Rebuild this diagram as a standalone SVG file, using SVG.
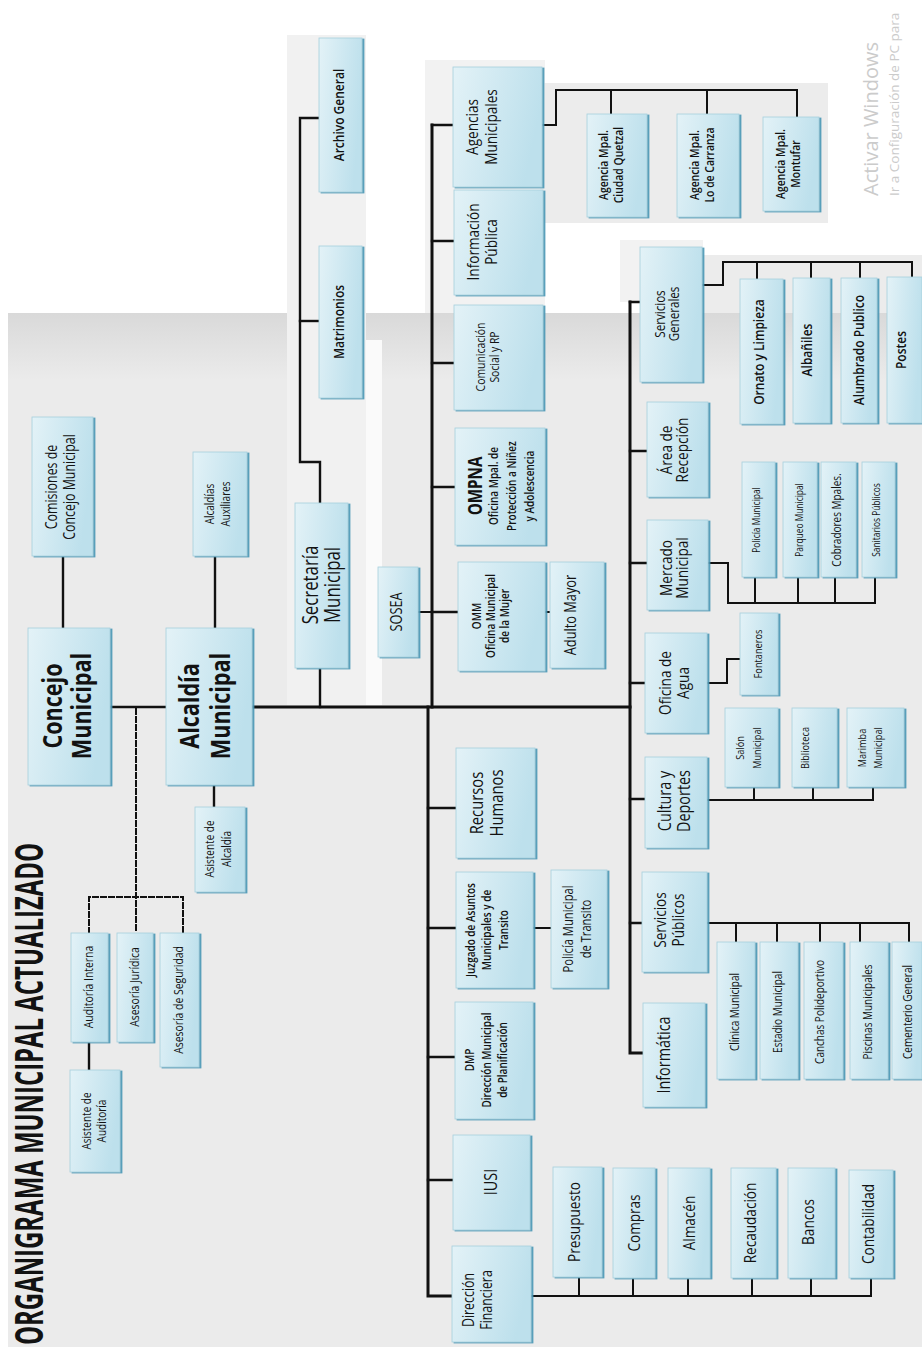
<svg xmlns="http://www.w3.org/2000/svg" width="922" height="1347" viewBox="0 0 922 1347">
<defs>
<linearGradient id="gb" x1="0" y1="0" x2="1" y2="0.3"><stop offset="0" stop-color="#e3f2f7"/><stop offset="1" stop-color="#bde0ec"/></linearGradient>
<linearGradient id="gbg" gradientUnits="userSpaceOnUse" x1="0" y1="313" x2="0" y2="380"><stop offset="0" stop-color="#d9d9d9"/><stop offset="1" stop-color="#ebebeb"/></linearGradient>
<filter id="sh" x="-10%" y="-10%" width="130%" height="130%"><feDropShadow dx="2" dy="1" stdDeviation="0.5" flood-color="#4a97b5" flood-opacity="0.9"/></filter>
</defs>
<style>
.box{fill:url(#gb);stroke:#a6cfdd;stroke-width:0.8;filter:url(#sh)}
text{font-family:'Open Sans','Liberation Sans',sans-serif;fill:#121212;text-anchor:middle;font-weight:500}
.b{font-weight:700}
.s{font-weight:600}
.wm{fill:#cbcbcb;text-anchor:start;font-weight:400}
#connectors path{fill:none;stroke:#111;stroke-linecap:square}
.k3{stroke-width:3}
.k2{stroke-width:2.4}
.k1{stroke-width:2}
.dash{stroke-dasharray:5 3;stroke-linecap:butt}
</style>
<rect width="922" height="1347" fill="#ffffff"/>
<rect x="8" y="313" width="914" height="1034" fill="url(#gbg)"/>
<rect x="287" y="35" width="79" height="670" fill="#f1f1f1"/>
<rect x="366" y="340" width="16" height="365" fill="#fafafa"/>
<rect x="425" y="60" width="120" height="253" fill="#f2f2f2"/>
<rect x="540" y="83" width="288" height="140" fill="#ececec"/>
<rect x="620" y="240" width="83" height="62" fill="#f2f2f2"/>
<rect x="703" y="255" width="219" height="58" fill="#ececec"/>

<text class="b" font-size="40" transform="translate(43,1345) rotate(-90)" style="text-anchor:start" textLength="502" lengthAdjust="spacingAndGlyphs">ORGANIGRAMA MUNICIPAL ACTUALIZADO</text>
<text class="wm" font-size="20" transform="translate(878,196) rotate(-90)">Activar Windows</text>
<text class="wm" font-size="13.5" transform="translate(899,196) rotate(-90)">Ir a Configuración de PC para</text>

<g id="connectors">
<path class="k2" d="M110 707 H166"/>
<path class="k3" d="M252 707 H630"/>
<path class="k3" d="M432 125 V707"/>
<path class="k3" d="M428 707 V1296 H452"/>
<path class="k3" d="M630 302 V1053 H643"/>
<path class="k2" d="M63 556 V628"/>
<path class="k2" d="M215 556 V628"/>
<path class="k2" d="M214 785 V807"/>
<path class="k2" d="M89 1042 V1070"/>
<path class="k2" d="M320 707 V668"/>
<path class="k2" d="M320 503 V462 H300 V118 H319"/>
<path class="k2" d="M300 321 H319"/>
<path class="k2" d="M432 125 H453 M432 241 H454 M432 363 H454 M432 487 H455 M432 612 H458"/>
<path class="k1" d="M418 612 H432"/>
<path class="k1" d="M545 612 H550"/>
<path class="k2" d="M428 808 H456 M428 928 H456 M428 1057 H455 M428 1180 H453"/>
<path class="k1" d="M533 928 H551"/>
<path class="k2" d="M630 302 H640 M630 451 H647 M630 563 H647 M630 683 H645 M630 799 H645 M630 923 H642"/>
<path class="k1" d="M542 125 H556 V90 H797 V117 M611 90 V114 M707 90 V114"/>
<path class="k1" d="M531 1296 H871 V1278 M579 1296 V1277 M633 1296 V1278 M688 1296 V1278 M752 1296 V1278 M811 1296 V1278"/>
<path class="k1" d="M702 285 H723 V262 H912 V277 M757 262 V279 M811 262 V278 M860 262 V278"/>
<path class="k1" d="M708 563 H728 V603 H875 V577 M755 603 V577 M798 603 V577 M835 603 V577"/>
<path class="k1" d="M707 683 H727 V659 H740"/>
<path class="k1" d="M707 800 H873 V787 M754 800 V787 M813 800 V787"/>
<path class="k1" d="M707 923 H909 V942 M736 923 V942 M777 923 V942 M820 923 V942 M860 923 V942"/>
<path class="k1 dash" d="M136 709 V933 M89 933 V897 H183 V933"/>
</g>

<g id="n-concejo"><rect class="box" x="28" y="628" width="82" height="157"/><text class="b" font-size="27" transform="translate(67,706) rotate(-90) scale(.8,1)"><tspan x="0" y="-5">Concejo</tspan><tspan x="0" y="24">Municipal</tspan></text></g>
<g id="n-comisiones"><rect class="box" x="32" y="417" width="61" height="139"/><text font-size="15.5" transform="translate(61,487) rotate(-90) scale(.8,1)"><tspan x="0" y="-3.8">Comisiones de</tspan><tspan x="0" y="14.4">Concejo Municipal</tspan></text></g>
<g id="n-alcaldia"><rect class="box" x="166" y="628" width="86" height="157"/><text class="b" font-size="27" transform="translate(205,706) rotate(-90) scale(.8,1)"><tspan x="0" y="-6">Alcaldía</tspan><tspan x="0" y="25">Municipal</tspan></text></g>
<g id="n-auxiliares"><rect class="box" x="193" y="452" width="54" height="104"/><text font-size="12.5" transform="translate(218,504) rotate(-90) scale(.8,1)"><tspan x="0" y="-3.6">Alcaldías</tspan><tspan x="0" y="12.4">Auxiliares</tspan></text></g>
<g id="n-asist-alcaldia"><rect class="box" x="195" y="807" width="50" height="85"/><text font-size="12.5" transform="translate(218.5,849) rotate(-90) scale(.8,1)"><tspan x="0" y="-4.1">Asistente de</tspan><tspan x="0" y="12.9">Alcaldía</tspan></text></g>
<g id="n-auditoria-interna"><rect class="box" x="71" y="933" width="37" height="109"/><text font-size="13" transform="translate(88,987) rotate(-90) scale(.8,1)"><tspan x="0" y="4.5">Auditoría Interna</tspan></text></g>
<g id="n-asesoria-juridica"><rect class="box" x="117" y="933" width="36" height="109"/><text font-size="13" transform="translate(134,987) rotate(-90) scale(.8,1)"><tspan x="0" y="4.5">Asesoría Jurídica</tspan></text></g>
<g id="n-asesoria-seguridad"><rect class="box" x="160" y="933" width="39" height="134"/><text font-size="13" transform="translate(178,1000) rotate(-90) scale(.8,1)"><tspan x="0" y="4.5">Asesoría de Seguridad</tspan></text></g>
<g id="n-asist-auditoria"><rect class="box" x="70" y="1070" width="50" height="102"/><text font-size="12.5" transform="translate(94,1121) rotate(-90) scale(.8,1)"><tspan x="0" y="-3.1">Asistente de</tspan><tspan x="0" y="11.9">Auditoría</tspan></text></g>

<g id="n-secretaria"><rect class="box" x="295" y="503" width="53" height="165"/><text font-size="21" transform="translate(322,585) rotate(-90) scale(.8,1)"><tspan x="0" y="-3.6">Secretaría</tspan><tspan x="0" y="18.4">Municipal</tspan></text></g>
<g id="n-archivo"><rect class="box" x="319" y="38" width="43" height="154"/><text class="s" font-size="15" transform="translate(339,115) rotate(-90) scale(.8,1)"><tspan x="0" y="5.2">Archivo General</tspan></text></g>
<g id="n-matrimonios"><rect class="box" x="319" y="246" width="43" height="152"/><text class="s" font-size="15" transform="translate(339,322) rotate(-90) scale(.8,1)"><tspan x="0" y="5.2">Matrimonios</tspan></text></g>
<g id="n-sosea"><rect class="box" x="378" y="567" width="40" height="90"/><text font-size="16" transform="translate(396,612) rotate(-90) scale(.8,1)"><tspan x="0" y="5.6">SOSEA</tspan></text></g>

<g id="n-agencias"><rect class="box" x="453" y="67" width="89" height="120"/><text font-size="17" transform="translate(481,127) rotate(-90) scale(.8,1)"><tspan x="0" y="-3.5">Agencias</tspan><tspan x="0" y="15.5">Municipales</tspan></text></g>
<g id="n-informacion"><rect class="box" x="454" y="190" width="89" height="105"/><text font-size="17" transform="translate(482,242) rotate(-90) scale(.8,1)"><tspan x="0" y="-3">Información</tspan><tspan x="0" y="15">Pública</tspan></text></g>
<g id="n-comunicacion"><rect class="box" x="454" y="305" width="89" height="105"/><text font-size="13" transform="translate(487,357) rotate(-90) scale(.8,1)"><tspan x="0" y="-2.5">Comunicación</tspan><tspan x="0" y="11.5">Social y RP</tspan></text></g>
<g id="n-ompna"><rect class="box" x="455" y="428" width="90" height="117"/><text font-size="12.5" class="s" transform="translate(500,486) rotate(-90) scale(.8,1)"><tspan x="0" y="-18.3" class="b" font-size="19">OMPNA</tspan><tspan x="0" y="-1.6">Oficina Mpal. de</tspan><tspan x="0" y="16.4">Protección a Niñez</tspan><tspan x="0" y="34.4">y Adolescencia</tspan></text></g>
<g id="n-omm"><rect class="box" x="458" y="562" width="87" height="109"/><text font-size="12.5" class="s" transform="translate(501.5,616) rotate(-90) scale(.8,1)"><tspan x="0" y="-20.3">OMM</tspan><tspan x="0" y="-6.3">Oficina Municipal</tspan><tspan x="0" y="7.7">de la Mujer</tspan></text></g>
<g id="n-adulto"><rect class="box" x="550" y="562" width="54" height="106"/><text font-size="16" transform="translate(570,615) rotate(-90) scale(.8,1)"><tspan x="0" y="5.6">Adulto Mayor</tspan></text></g>
<g id="n-ag-quetzal"><rect class="box" x="587" y="114" width="60" height="103"/><text class="s" font-size="13" transform="translate(610.5,165) rotate(-90) scale(.8,1)"><tspan x="0" y="-3">Agencia Mpal.</tspan><tspan x="0" y="12">Ciudad Quetzal</tspan></text></g>
<g id="n-ag-carranza"><rect class="box" x="677" y="114" width="62" height="103"/><text class="s" font-size="13" transform="translate(701.5,165) rotate(-90) scale(.8,1)"><tspan x="0" y="-3">Agencia Mpal.</tspan><tspan x="0" y="12">Lo de Carranza</tspan></text></g>
<g id="n-ag-montufar"><rect class="box" x="763" y="117" width="56" height="94"/><text class="s" font-size="13" transform="translate(787.5,164) rotate(-90) scale(.8,1)"><tspan x="0" y="-3">Agencia Mpal.</tspan><tspan x="0" y="12">Montufar</tspan></text></g>

<g id="n-rrhh"><rect class="box" x="456" y="748" width="79" height="110"/><text font-size="18.5" transform="translate(486.5,803) rotate(-90) scale(.8,1)"><tspan x="0" y="-3.7">Recursos</tspan><tspan x="0" y="16.5">Humanos</tspan></text></g>
<g id="n-juzgado"><rect class="box" x="456" y="872" width="77" height="116"/><text class="s" font-size="12.5" transform="translate(494.5,930) rotate(-90) scale(.8,1)"><tspan x="0" y="-19.1">Juzgado de Asuntos</tspan><tspan x="0" y="-3.1">Municipales y de</tspan><tspan x="0" y="13.9">Transito</tspan></text></g>
<g id="n-pmt"><rect class="box" x="551" y="870" width="56" height="118"/><text font-size="14" transform="translate(577,929) rotate(-90) scale(.8,1)"><tspan x="0" y="-4.3">Policía Municipal</tspan><tspan x="0" y="14.2">de Transito</tspan></text></g>
<g id="n-dmp"><rect class="box" x="455" y="1002" width="78" height="117"/><text class="s" font-size="12.5" transform="translate(487,1060) rotate(-90) scale(.8,1)"><tspan x="0" y="-12.6">DMP</tspan><tspan x="0" y="4.4">Dirección Municipal</tspan><tspan x="0" y="19.9">de Planificación</tspan></text></g>
<g id="n-iusi"><rect class="box" x="453" y="1135" width="77" height="95"/><text font-size="18" transform="translate(491,1182) rotate(-90) scale(.8,1)"><tspan x="0" y="6.3">IUSI</tspan></text></g>
<g id="n-dfin"><rect class="box" x="452" y="1246" width="79" height="96"/><text font-size="15.5" transform="translate(477.5,1300) rotate(-90) scale(.8,1)"><tspan x="0" y="-3.2">Dirección</tspan><tspan x="0" y="14">Financiera</tspan></text></g>
<g id="n-presupuesto"><rect class="box" x="553" y="1167" width="49" height="110"/><text font-size="17" transform="translate(574,1222) rotate(-90) scale(.8,1)"><tspan x="0" y="6">Presupuesto</tspan></text></g>
<g id="n-compras"><rect class="box" x="613" y="1168" width="42" height="110"/><text font-size="17" transform="translate(633.5,1223) rotate(-90) scale(.8,1)"><tspan x="0" y="6">Compras</tspan></text></g>
<g id="n-almacen"><rect class="box" x="668" y="1168" width="42" height="110"/><text font-size="17" transform="translate(688.5,1223) rotate(-90) scale(.8,1)"><tspan x="0" y="6">Almacén</tspan></text></g>
<g id="n-recaudacion"><rect class="box" x="731" y="1168" width="45" height="110"/><text font-size="17" transform="translate(750,1223) rotate(-90) scale(.8,1)"><tspan x="0" y="6">Recaudación</tspan></text></g>
<g id="n-bancos"><rect class="box" x="788" y="1168" width="47" height="110"/><text font-size="17" transform="translate(807.5,1222) rotate(-90) scale(.8,1)"><tspan x="0" y="6">Bancos</tspan></text></g>
<g id="n-contabilidad"><rect class="box" x="849" y="1170" width="44" height="108"/><text font-size="17" transform="translate(867.5,1224) rotate(-90) scale(.8,1)"><tspan x="0" y="6">Contabilidad</tspan></text></g>

<g id="n-serv-generales"><rect class="box" x="640" y="247" width="62" height="135"/><text font-size="14.5" transform="translate(667,314) rotate(-90) scale(.8,1)"><tspan x="0" y="-2.5">Servicios</tspan><tspan x="0" y="12">Generales</tspan></text></g>
<g id="n-ornato"><rect class="box" x="740" y="279" width="43" height="145"/><text class="s" font-size="15" transform="translate(758.5,352) rotate(-90) scale(.8,1)"><tspan x="0" y="5.2">Ornato y Limpieza</tspan></text></g>
<g id="n-albaniles"><rect class="box" x="793" y="278" width="37" height="145"/><text class="s" font-size="15" transform="translate(806.5,350) rotate(-90) scale(.8,1)"><tspan x="0" y="5.2">Albañiles</tspan></text></g>
<g id="n-alumbrado"><rect class="box" x="841" y="278" width="36" height="145"/><text class="s" font-size="15" transform="translate(858.5,350) rotate(-90) scale(.8,1)"><tspan x="0" y="5.2">Alumbrado Publico</tspan></text></g>
<g id="n-postes"><rect class="box" x="887" y="277" width="35" height="146"/><text class="s" font-size="15" transform="translate(901,350) rotate(-90) scale(.8,1)"><tspan x="0" y="5.2">Postes</tspan></text></g>
<g id="n-recepcion"><rect class="box" x="647" y="402" width="61" height="95"/><text font-size="17" transform="translate(674,450) rotate(-90) scale(.8,1)"><tspan x="0" y="-2">Área de</tspan><tspan x="0" y="14">Recepción</tspan></text></g>
<g id="n-mercado"><rect class="box" x="647" y="520" width="61" height="90"/><text font-size="17" transform="translate(674,568) rotate(-90) scale(.8,1)"><tspan x="0" y="-2">Mercado</tspan><tspan x="0" y="14">Municipal</tspan></text></g>
<g id="n-policia-mun"><rect class="box" x="742" y="462" width="33" height="115"/><text font-size="10.5" transform="translate(756,520) rotate(-90) scale(.8,1)"><tspan x="0" y="3.7">Policía Municipal</tspan></text></g>
<g id="n-parqueo"><rect class="box" x="783" y="462" width="34" height="115"/><text font-size="10.5" transform="translate(799,520) rotate(-90) scale(.8,1)"><tspan x="0" y="3.7">Parqueo Municipal</tspan></text></g>
<g id="n-cobradores"><rect class="box" x="821" y="462" width="35" height="115"/><text font-size="12.5" transform="translate(837,520) rotate(-90) scale(.8,1)"><tspan x="0" y="4.4">Cobradores Mpales.</tspan></text></g>
<g id="n-sanitarios"><rect class="box" x="862" y="462" width="33" height="115"/><text font-size="10.5" transform="translate(876,520) rotate(-90) scale(.8,1)"><tspan x="0" y="3.7">Sanitarios Públicos</tspan></text></g>
<g id="n-agua"><rect class="box" x="645" y="633" width="62" height="100"/><text font-size="17" transform="translate(673.5,683) rotate(-90) scale(.8,1)"><tspan x="0" y="-3">Oficina de</tspan><tspan x="0" y="15">Agua</tspan></text></g>
<g id="n-fontaneros"><rect class="box" x="740" y="613" width="38" height="82"/><text font-size="11.5" transform="translate(758,654) rotate(-90) scale(.8,1)"><tspan x="0" y="4">Fontaneros</tspan></text></g>
<g id="n-cultura"><rect class="box" x="645" y="757" width="62" height="91"/><text font-size="18" transform="translate(674,801) rotate(-90) scale(.8,1)"><tspan x="0" y="-3.2">Cultura y</tspan><tspan x="0" y="15.8">Deportes</tspan></text></g>
<g id="n-salon"><rect class="box" x="725" y="708" width="53" height="79"/><text font-size="11.5" transform="translate(748.5,748) rotate(-90) scale(.8,1)"><tspan x="0" y="-4.4">Salón</tspan><tspan x="0" y="12.6">Municipal</tspan></text></g>
<g id="n-biblioteca"><rect class="box" x="792" y="708" width="45" height="79"/><text font-size="11.5" transform="translate(805,748) rotate(-90) scale(.8,1)"><tspan x="0" y="4">Biblioteca</tspan></text></g>
<g id="n-marimba"><rect class="box" x="847" y="708" width="57" height="79"/><text font-size="11.5" transform="translate(870,748) rotate(-90) scale(.8,1)"><tspan x="0" y="-4">Marimba</tspan><tspan x="0" y="12">Municipal</tspan></text></g>
<g id="n-serv-publicos"><rect class="box" x="642" y="872" width="65" height="100"/><text font-size="17" transform="translate(669,920) rotate(-90) scale(.8,1)"><tspan x="0" y="-3.3">Servicios</tspan><tspan x="0" y="15.2">Públicos</tspan></text></g>
<g id="n-clinica"><rect class="box" x="717" y="942" width="38" height="137"/><text font-size="12.5" transform="translate(735,1012) rotate(-90) scale(.8,1)"><tspan x="0" y="4.4">Clínica Municipal</tspan></text></g>
<g id="n-estadio"><rect class="box" x="760" y="942" width="38" height="137"/><text font-size="12.5" transform="translate(777.5,1012) rotate(-90) scale(.8,1)"><tspan x="0" y="4.4">Estadio Municipal</tspan></text></g>
<g id="n-canchas"><rect class="box" x="804" y="942" width="39" height="137"/><text font-size="12.5" transform="translate(820,1012) rotate(-90) scale(.8,1)"><tspan x="0" y="4.4">Canchas Polideportivo</tspan></text></g>
<g id="n-piscinas"><rect class="box" x="850" y="942" width="38" height="137"/><text font-size="12.5" transform="translate(867.5,1012) rotate(-90) scale(.8,1)"><tspan x="0" y="4.4">Piscinas Municipales</tspan></text></g>
<g id="n-cementerio"><rect class="box" x="892" y="942" width="30" height="137"/><text font-size="12.5" transform="translate(907.5,1012) rotate(-90) scale(.8,1)"><tspan x="0" y="4.4">Cementerio General</tspan></text></g>
<g id="n-informatica"><rect class="box" x="643" y="1003" width="62" height="104"/><text font-size="18" transform="translate(663.5,1055) rotate(-90) scale(.8,1)"><tspan x="0" y="6.3">Informática</tspan></text></g>
</svg>
